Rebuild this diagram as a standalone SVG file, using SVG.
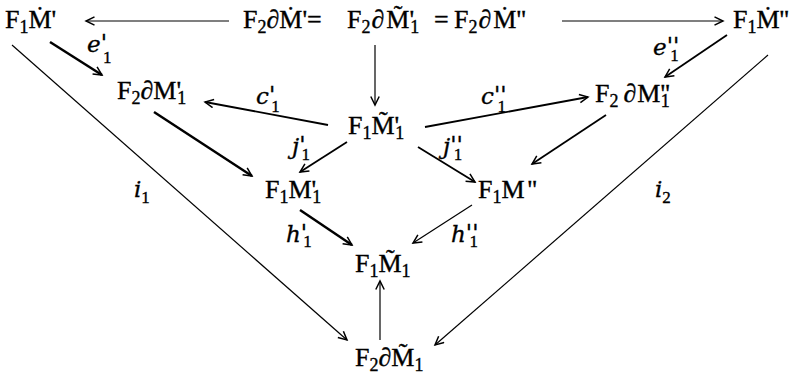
<svg xmlns="http://www.w3.org/2000/svg" width="801" height="375" viewBox="0 0 801 375">
<defs>
<style>
text{font-family:"Liberation Serif","DejaVu Serif",serif;font-size:26px;fill:#000;stroke:#000;stroke-width:0.35}
.s{font-size:18px}
.it{font-family:"DejaVu Serif","Liberation Serif",serif;font-style:italic;font-size:23px}
.it .s{font-size:17px;font-style:normal;font-family:"Liberation Serif","DejaVu Serif",serif}
line{stroke:#000;stroke-width:1.2;fill:none;marker-end:url(#ah)}
.m{stroke-width:1.8}
.k{stroke-width:2.5}
</style>
<marker id="ah" markerUnits="userSpaceOnUse" markerWidth="12" markerHeight="12" refX="10" refY="5" orient="auto">
<path d="M1.5,0.8 L10,5 L1.5,9.2" fill="none" stroke="#000" stroke-width="1.5"/>
</marker>
</defs>
<rect width="801" height="375" fill="#fff"/>
<g id="connectors">
<line x1="229" y1="21" x2="86" y2="21"/>
<line x1="562" y1="21" x2="723" y2="21"/>
<line x1="375" y1="45" x2="375" y2="105"/>
<line class="k" x1="50" y1="42" x2="102" y2="75"/>
<line class="m" x1="727" y1="35" x2="665" y2="77"/>
<line class="m" x1="328" y1="125" x2="205" y2="102"/>
<line class="m" x1="425" y1="127" x2="588" y2="97"/>
<line class="m" x1="347" y1="142" x2="300" y2="172"/>
<line class="m" x1="418" y1="147" x2="475" y2="182"/>
<line class="k" x1="154" y1="112" x2="252" y2="176"/>
<line class="m" x1="606" y1="115" x2="532" y2="164"/>
<line class="k" x1="300" y1="210" x2="352" y2="245"/>
<line x1="472" y1="205" x2="413" y2="243"/>
<line x1="12" y1="45" x2="347" y2="340"/>
<line x1="768" y1="55" x2="435" y2="345"/>
<line x1="380" y1="340" x2="380" y2="281"/>
</g>
<g id="labels">
<text class="it" x="87" y="52">e<tspan dy="-2">'</tspan><tspan class="s" dx="-4" dy="13">1</tspan></text>
<text class="it" x="653" y="55">e<tspan dy="-2">''</tspan><tspan class="s" dx="-9" dy="8">1</tspan></text>
<text class="it" x="256" y="104">c<tspan dy="-2">'</tspan><tspan class="s" dx="-4" dy="10">1</tspan></text>
<text class="it" x="481" y="104">c<tspan dy="-2">''</tspan><tspan class="s" dx="-9" dy="10">1</tspan></text>
<text class="it" x="292" y="154">j<tspan dy="-2">'</tspan><tspan class="s" dx="-4" dy="8">1</tspan></text>
<text class="it" x="443" y="154">j<tspan dy="-2">''</tspan><tspan class="s" dx="-9" dy="8">1</tspan></text>
<text class="it" x="286" y="242">h<tspan dy="-2">'</tspan><tspan class="s" dx="-4" dy="7">1</tspan></text>
<text class="it" x="451" y="242">h<tspan dy="-2">''</tspan><tspan class="s" dx="-9" dy="7">1</tspan></text>
<text class="it" x="134" y="197">i<tspan class="s" dy="6">1</tspan></text>
<text class="it" x="655" y="197">i<tspan class="s" dy="6">2</tspan></text>
</g>
<g id="n-F1M">
<text x="5" y="28">F<tspan class="s" dy="5">1</tspan><tspan dy="-5">Ṁ'</tspan></text>
</g>
<g id="n-top">
<text y="28"><tspan x="243">F</tspan><tspan class="s" dy="5">2</tspan><tspan dy="-5">∂Ṁ'=</tspan><tspan x="347">F</tspan><tspan class="s" dy="5">2</tspan><tspan dy="-5" dx="1">∂</tspan><tspan dx="2">M̃'</tspan><tspan class="s" dx="-4" dy="5">1</tspan><tspan x="434" dy="-5">=</tspan><tspan x="454">F</tspan><tspan class="s" dy="5">2</tspan><tspan dy="-5" dx="1">∂</tspan><tspan dx="2">Ṁ''</tspan></text>
</g>
<g id="n-F1M2">
<text x="733" y="28">F<tspan class="s" dy="5">1</tspan><tspan dy="-5">Ṁ''</tspan></text>
</g>
<g id="n-F2dM1a">
<text x="117" y="99">F<tspan class="s" dy="5">2</tspan><tspan dy="-5">∂M'</tspan><tspan class="s" dx="-4" dy="5">1</tspan></text>
</g>
<g id="n-F2dM1b">
<text x="595" y="102">F<tspan class="s" dy="5">2</tspan><tspan dy="-5" dx="5">∂</tspan><tspan dx="1">M''</tspan><tspan class="s" dx="-9" dy="5">1</tspan></text>
</g>
<g id="n-F1tM1a">
<text x="348" y="134">F<tspan class="s" dy="5">1</tspan><tspan dy="-5">M̃'</tspan><tspan class="s" dx="-4" dy="5">1</tspan></text>
</g>
<g id="n-F1M1a">
<text x="265" y="198">F<tspan class="s" dy="5">1</tspan><tspan dy="-5">M'</tspan><tspan class="s" dx="-4" dy="5">1</tspan></text>
</g>
<g id="n-F1M2b">
<text x="478" y="198">F<tspan class="s" dy="5">1</tspan><tspan dy="-5">M</tspan><tspan dx="3">''</tspan></text>
</g>
<g id="n-F1tM1">
<text x="355" y="272">F<tspan class="s" dy="5">1</tspan><tspan dy="-5">M̃</tspan><tspan class="s" dy="5">1</tspan></text>
</g>
<g id="n-F2dtM1">
<text x="355" y="366">F<tspan class="s" dy="5">2</tspan><tspan dy="-5">∂M̃</tspan><tspan class="s" dy="5">1</tspan></text>
</g>
</svg>
